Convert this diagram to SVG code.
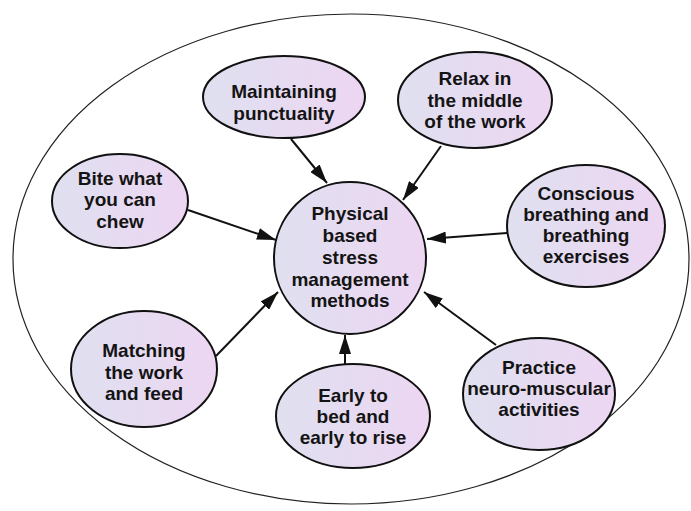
<svg xmlns="http://www.w3.org/2000/svg" width="691" height="511" viewBox="0 0 691 511">
  <style>
    .node { stroke: #111; stroke-width: 2; fill: url(#nodeFill); }
    .label { font-family: "Liberation Sans", Arial, sans-serif; font-weight: bold; font-size: 19px; fill: #141414; text-anchor: middle; }
    .edge { stroke: #111; stroke-width: 2; fill: none; marker-end: url(#arrow); }
  </style>
  <defs>
    <linearGradient id="nodeFill" x1="0" y1="0" x2="1" y2="0">
      <stop offset="0" stop-color="#dfe0f0"/>
      <stop offset="1" stop-color="#edd6f2"/>
    </linearGradient>
    <marker id="arrow" viewBox="0 0 19 12" refX="19" refY="6" markerWidth="19" markerHeight="12" markerUnits="userSpaceOnUse" orient="auto">
      <path d="M0,0 L19,6 L0,12 Z" fill="#111"/>
    </marker>
  </defs>

  <rect width="691" height="511" fill="#ffffff"/>

  <!-- outer boundary -->
  <ellipse cx="351" cy="259" rx="338" ry="245" fill="none" stroke="#222" stroke-width="1.2"/>

  <g id="connectors">
    <line class="edge" x1="291" y1="139" x2="327" y2="183"/>
    <line class="edge" x1="441" y1="146" x2="403" y2="200"/>
    <line class="edge" x1="507" y1="233" x2="427" y2="239"/>
    <line class="edge" x1="188" y1="210" x2="276" y2="240"/>
    <line class="edge" x1="216" y1="356" x2="278" y2="292"/>
    <line class="edge" x1="345" y1="364" x2="345" y2="335"/>
    <line class="edge" x1="496" y1="345" x2="424" y2="292"/>
  </g>

  <g id="center">
    <circle class="node" cx="350" cy="258" r="76"/>
    <text class="label" x="350" y="220">Physical</text>
    <text class="label" x="350" y="242">based</text>
    <text class="label" x="350" y="264">stress</text>
    <text class="label" x="350" y="286">management</text>
    <text class="label" x="350" y="307">methods</text>
  </g>

  <g id="punctuality">
    <ellipse class="node" cx="284" cy="97" rx="81" ry="41"/>
    <text class="label" x="284" y="98">Maintaining</text>
    <text class="label" x="284" y="120">punctuality</text>
  </g>

  <g id="relax">
    <ellipse class="node" cx="475" cy="100" rx="77" ry="48"/>
    <text class="label" x="475" y="85">Relax in</text>
    <text class="label" x="475" y="107">the middle</text>
    <text class="label" x="475" y="128">of the work</text>
  </g>

  <g id="breathing">
    <ellipse class="node" cx="586" cy="226" rx="79" ry="61"/>
    <text class="label" x="586" y="200">Conscious</text>
    <text class="label" x="586" y="221">breathing and</text>
    <text class="label" x="586" y="242">breathing</text>
    <text class="label" x="586" y="263">exercises</text>
  </g>

  <g id="bite">
    <ellipse class="node" cx="120" cy="201" rx="68" ry="47"/>
    <text class="label" x="120" y="185">Bite what</text>
    <text class="label" x="120" y="206">you can</text>
    <text class="label" x="120" y="228">chew</text>
  </g>

  <g id="matching">
    <ellipse class="node" cx="144" cy="369" rx="73" ry="58"/>
    <text class="label" x="144" y="357">Matching</text>
    <text class="label" x="144" y="379">the work</text>
    <text class="label" x="144" y="400">and feed</text>
  </g>

  <g id="sleep">
    <ellipse class="node" cx="353" cy="416" rx="77" ry="52"/>
    <text class="label" x="353" y="402">Early to</text>
    <text class="label" x="353" y="423">bed and</text>
    <text class="label" x="353" y="444">early to rise</text>
  </g>

  <g id="neuromuscular">
    <ellipse class="node" cx="539" cy="394" rx="76" ry="56"/>
    <text class="label" x="539" y="374">Practice</text>
    <text class="label" x="539" y="395">neuro-muscular</text>
    <text class="label" x="539" y="416">activities</text>
  </g>
</svg>
